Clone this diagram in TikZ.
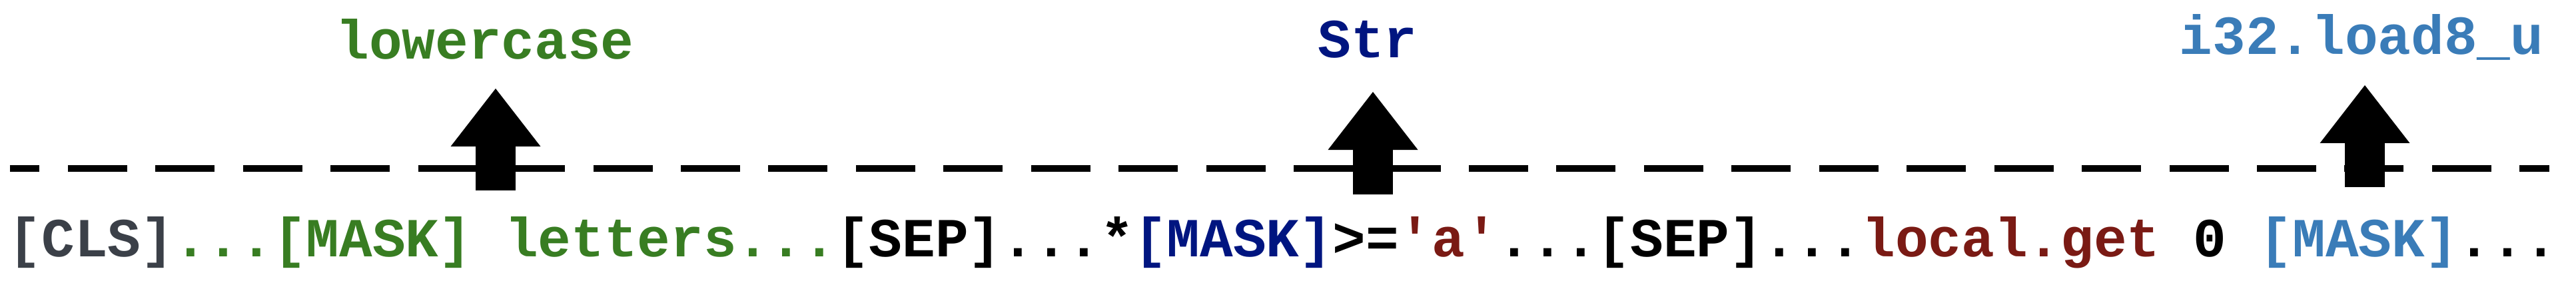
\documentclass[tikz,border=0pt]{standalone}
\usepackage{fontspec}
\setmonofont{Liberation Mono}
\usetikzlibrary{arrows.meta, positioning}

\definecolor{clsgray}{RGB}{59,64,72}
\definecolor{maskgreen}{RGB}{56,125,34}
\definecolor{strnavy}{RGB}{0,21,128}
\definecolor{litred}{RGB}{122,26,20}
\definecolor{opblue}{RGB}{58,124,184}

\begin{document}
\begin{tikzpicture}[
        tok/.style={inner sep=0pt, outer sep=0pt, font=\fontsize{23.56}{28}\selectfont\ttfamily\bfseries},
        bigarrow/.style={line width=0.6cm, -{Triangle[width=1.35cm, length=0.87cm, line width=0pt]}}
    ]
        \useasboundingbox (0,0) rectangle (38.67,4.24);
        \draw[line width=0.094cm, dash pattern=on 0.89cm off 0.4244cm, dash phase=0.445cm] (0.15,1.71) -- (38.27,1.71);

        % input sequence
        \node[tok, text=clsgray, anchor=base west] (cls) at (0.1275,0.39) {[CLS]};
        \node[tok, text=maskgreen, base right=0pt of cls] (ctx) {...[MASK] letters...};
        \node[tok, base right=0pt of ctx] (sep1) {[SEP]...*};
        \node[tok, text=strnavy, base right=0pt of sep1] (mask1) {[MASK]};
        \node[tok, base right=0pt of mask1] (geq) {>=};
        \node[tok, text=litred, base right=0pt of geq] (lit) {'a'};
        \node[tok, base right=0pt of lit] (sep2) {...[SEP]...};
        \node[tok, text=litred, base right=0pt of sep2] (get) {local.get};
        \node[tok, base right=0pt of get] (zero) {\ 0};
        \node[tok, text=opblue, base right=0pt of zero] (mask2) {\ [MASK]};
        \node[tok, base right=0pt of mask2] (tail) {...};

        % predictions
        \node[tok, text=maskgreen, anchor=base] (lower) at (7.28,3.36) {lowercase};
        \node[tok, text=strnavy, anchor=base] (str) at (20.53,3.37) {Str};
        \node[tok, text=opblue, anchor=base] (load) at (35.45,3.42) {i32.load8\_u};

        \coordinate (a1) at (7.44,1.38);
        \coordinate (b1) at (7.44,2.91);
        \draw[bigarrow] (a1) -- (b1);
        \coordinate (a2) at (20.61,1.32);
        \coordinate (b2) at (20.61,2.86);
        \draw[bigarrow] (a2) -- (b2);
        \coordinate (a3) at (35.50,1.43);
        \coordinate (b3) at (35.50,2.96);
        \draw[bigarrow] (a3) -- (b3);
    \end{tikzpicture}
\end{document}
